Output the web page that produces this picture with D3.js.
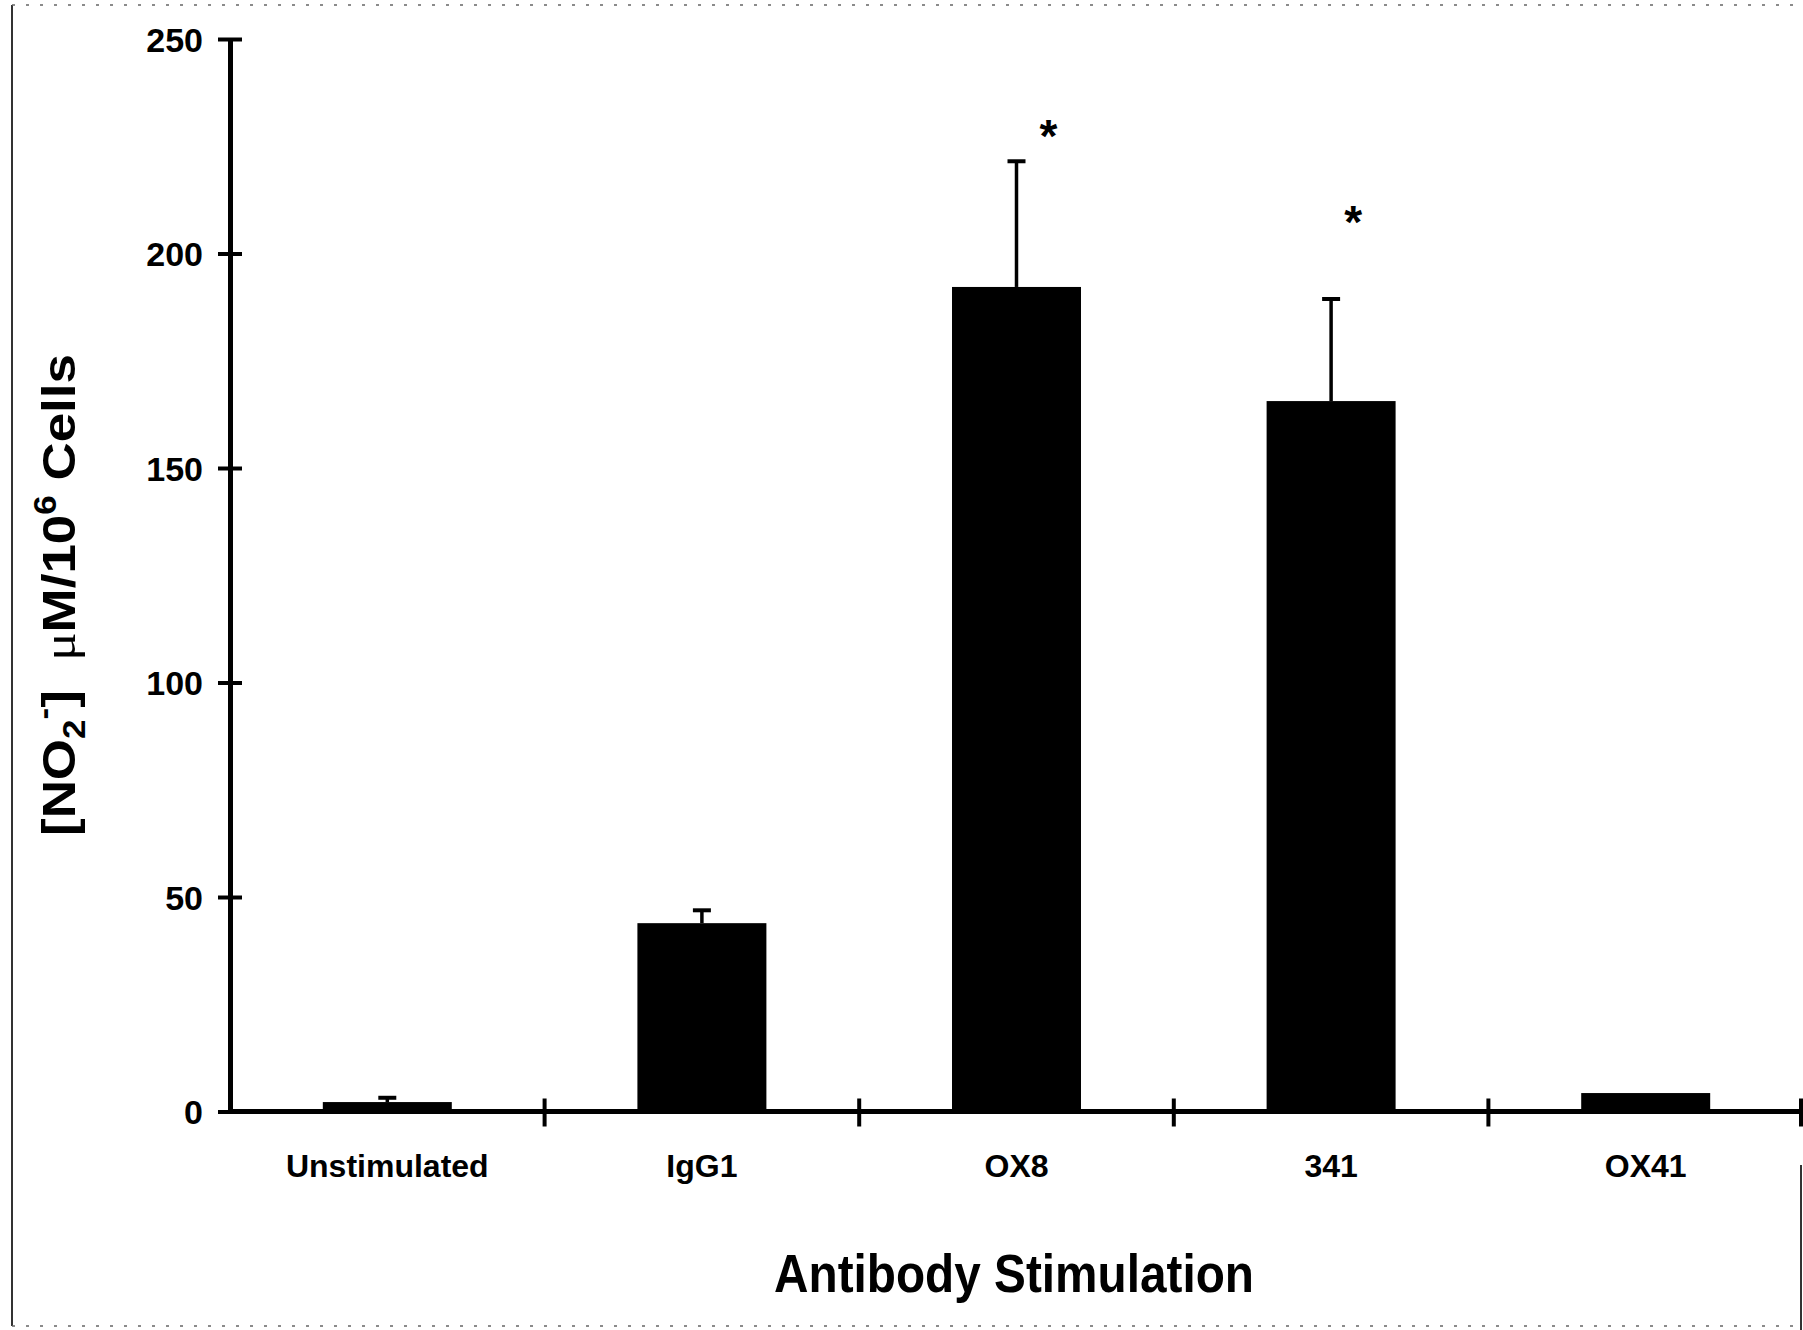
<!DOCTYPE html>
<html>
<head>
<meta charset="utf-8">
<script src="https://cdn.jsdelivr.net/npm/d3@7"></script>
<style>
  html, body { margin: 0; padding: 0; background: #fff; }
  svg { display: block; }
</style>
</head>
<body>
<script>
// ---- data ----
const categories = ["Unstimulated", "IgG1", "OX8", "341", "OX41"];
const means      = [2.2, 43.9, 192.2, 165.6, 4.3];
const errors     = [1.0, 3.0, 29.3, 23.8, 0];
const significant = [false, false, true, true, false];
const starLevels = [null, null, 229.5, 209.4, null];
const yTicks     = [0, 50, 100, 150, 200, 250];
const xTitle = "Antibody Stimulation";

// ---- layout ----
const W = 1803, H = 1330;
const svg = d3.select("body").append("svg").attr("width", W).attr("height", H);
const font = "'Liberation Sans', Arial, Helvetica, sans-serif";

const x = d3.scaleBand().domain(categories).range([230, 1803]).padding(0);
const y = d3.scaleLinear().domain([0, 250]).range([1111.5, 39]);
const barW = x.bandwidth() * 0.41;

// page border artefacts (scan frame)
svg.append("line").attr("x1", 12).attr("x2", 12).attr("y1", 5).attr("y2", 1326)
  .attr("stroke", "#333").attr("stroke-width", 2);
svg.append("line").attr("x1", 12).attr("x2", 1803).attr("y1", 5).attr("y2", 5)
  .attr("stroke", "#666").attr("stroke-width", 1.5).attr("stroke-dasharray", "3 11");
svg.append("line").attr("x1", 12).attr("x2", 1803).attr("y1", 1326).attr("y2", 1326)
  .attr("stroke", "#666").attr("stroke-width", 1.5).attr("stroke-dasharray", "3 11");
svg.append("line").attr("x1", 1801).attr("x2", 1801).attr("y1", 1165).attr("y2", 1330)
  .attr("stroke", "#333").attr("stroke-width", 2);

// bars
svg.append("g").selectAll("rect").data(categories).join("rect")
  .attr("x", d => x(d) + x.bandwidth() / 2 - barW / 2)
  .attr("y", (d, i) => y(means[i]))
  .attr("width", barW)
  .attr("height", (d, i) => y(0) - y(means[i]))
  .attr("fill", "#000");

// error bars (upper only)
const eg = svg.append("g").attr("stroke", "#000");
categories.forEach((c, i) => {
  if (!errors[i]) return;
  const cx = x(c) + x.bandwidth() / 2;
  eg.append("line").attr("x1", cx).attr("x2", cx)
    .attr("y1", y(means[i])).attr("y2", y(means[i] + errors[i]))
    .attr("stroke-width", 3.5);
  eg.append("line").attr("x1", cx - 9).attr("x2", cx + 9)
    .attr("y1", y(means[i] + errors[i])).attr("y2", y(means[i] + errors[i]))
    .attr("stroke-width", 4);
});

// significance stars
const starOffsets = [0, 0, 32, 22, 0];
svg.append("g").selectAll("text").data(categories.filter((c, i) => significant[i])).join("text")
  .attr("x", d => x(d) + x.bandwidth() / 2 + starOffsets[categories.indexOf(d)])
  .attr("y", d => y(starLevels[categories.indexOf(d)]) + 25)
  .attr("text-anchor", "middle")
  .attr("font-family", font).attr("font-weight", "bold").attr("font-size", 46)
  .text("*");

// y axis
const yAxis = svg.append("g").attr("transform", `translate(230,0)`)
  .call(d3.axisLeft(y).tickValues(yTicks).tickSizeInner(12).tickSizeOuter(0).tickPadding(16));
yAxis.select(".domain").attr("stroke", "#000").attr("stroke-width", 5);
yAxis.selectAll(".tick line").attr("x1", -12).attr("x2", 12).attr("stroke", "#000").attr("stroke-width", 4);
yAxis.selectAll(".tick text")
  .attr("font-family", font).attr("font-weight", "bold").attr("font-size", 34).attr("fill", "#000")
  .attr("x", -27).attr("dy", "0.36em");

// x axis line and ticks
svg.append("line").attr("x1", 228).attr("x2", 1803).attr("y1", y(0)).attr("y2", y(0))
  .attr("stroke", "#000").attr("stroke-width", 5);
svg.append("g").selectAll("line").data(categories).join("line")
  .attr("x1", d => Math.min(x(d) + x.bandwidth(), 1801)).attr("x2", d => Math.min(x(d) + x.bandwidth(), 1801))
  .attr("y1", y(0) - 13).attr("y2", y(0) + 15)
  .attr("stroke", "#000").attr("stroke-width", 4);

// x category labels
svg.append("g").selectAll("text").data(categories).join("text")
  .attr("x", d => x(d) + x.bandwidth() / 2)
  .attr("y", 1177)
  .attr("text-anchor", "middle")
  .attr("font-family", font).attr("font-weight", "bold").attr("font-size", 32)
  .text(d => d);

// x title
svg.append("text")
  .attr("x", 1014).attr("y", 1292)
  .attr("text-anchor", "middle")
  .attr("font-family", font).attr("font-weight", "bold").attr("font-size", 53)
  .attr("textLength", 480).attr("lengthAdjust", "spacingAndGlyphs")
  .text(xTitle);

// y title (rotated) : [NO2-]  μM/10^6 Cells
const yt = svg.append("text")
  .attr("transform", "translate(75,595) rotate(-90)")
  .attr("text-anchor", "middle")
  .attr("font-family", font).attr("font-weight", "bold").attr("font-size", 47)
  .attr("textLength", 482).attr("lengthAdjust", "spacingAndGlyphs")
  .style("white-space", "pre");
yt.append("tspan").text("[NO");
yt.append("tspan").attr("font-size", 31).attr("dy", 10).text("2");
yt.append("tspan").attr("font-size", 31).attr("dy", -31).text("-");
yt.append("tspan").attr("dy", 21).text("]  ");
yt.append("tspan").attr("font-family", "'Liberation Serif', 'DejaVu Serif', serif").attr("font-weight", "normal").text("μ");
yt.append("tspan").text("M/10");
yt.append("tspan").attr("font-size", 31).attr("dy", -19).text("6");
yt.append("tspan").attr("dy", 19).text(" Cells");
</script>
</body>
</html>
